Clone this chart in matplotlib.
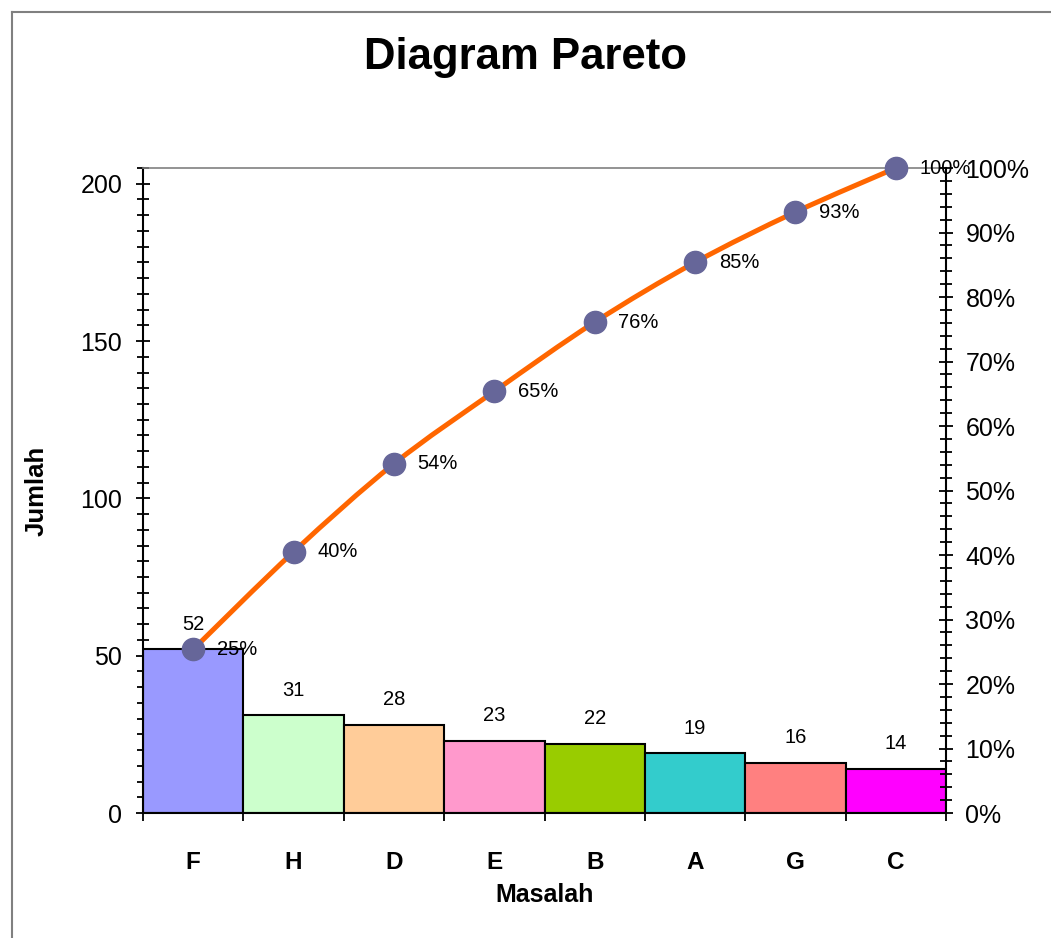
import numpy as np
import matplotlib
matplotlib.use("Agg")
import matplotlib.pyplot as plt
from matplotlib.ticker import MultipleLocator, FuncFormatter
from matplotlib.lines import Line2D
from matplotlib.path import Path
from matplotlib.patches import PathPatch

plt.rcParams['font.family'] = ['Liberation Sans', 'DejaVu Sans']

# --- data ---
kategori = ["F", "H", "D", "E", "B", "A", "G", "C"]
jumlah = [52, 31, 28, 23, 22, 19, 16, 14]
label_persen = ["25%", "40%", "54%", "65%", "76%", "85%", "93%", "100%"]
warna_bar = ["#9999FF", "#CCFFCC", "#FFCC99", "#FF99CC",
             "#99CC00", "#33CCCC", "#FF8080", "#FF00FF"]

total = sum(jumlah)
kumulatif = np.cumsum(jumlah) / total

W, H = 1051, 938
fig = plt.figure(figsize=(W / 100, H / 100), dpi=100)

# posisi area plot (piksel)
x0, x1, y0, y1 = 143, 946, 168, 813
ax = fig.add_axes([x0 / W, 1 - y1 / H, (x1 - x0) / W, (y1 - y0) / H])

x = np.arange(len(kategori))
bars = ax.bar(x, jumlah, width=1.0, color=warna_bar, edgecolor="black", linewidth=1.5, zorder=2)
for xi, v in zip(x, jumlah):
    ax.annotate(str(v), (xi, v), xytext=(0, 18), textcoords="offset points",
                ha="center", va="center", fontsize=14.5)

ax.set_xlim(-0.5, len(kategori) - 0.5)
ax.set_ylim(0, total)

# sumbu kiri
ax.yaxis.set_major_locator(MultipleLocator(50))
ax.yaxis.set_minor_locator(MultipleLocator(5))
ax.tick_params(axis="y", which="major", direction="inout", length=10, width=1.3, labelsize=18, pad=10)
ax.tick_params(axis="y", which="minor", direction="inout", length=8, width=1.3)

# sumbu x: label di tengah, tick di batas bar
ax.set_xticks(x)
ax.set_xticklabels(kategori, fontsize=17.5, fontweight="bold")
ax.set_xticks(np.arange(-0.5, len(kategori)), minor=True)
ax.tick_params(axis="x", which="major", length=0, pad=27)
ax.tick_params(axis="x", which="minor", direction="out", length=6, width=1.3)

for s in ["left", "bottom"]:
    ax.spines[s].set_color("black")
    ax.spines[s].set_linewidth(1.5)
ax.spines["top"].set_color("#808080")
ax.spines["top"].set_linewidth(1.2)
ax.spines["right"].set_visible(False)

ax.set_ylabel("Jumlah", fontsize=18.5, fontweight="bold")
ax.yaxis.set_label_coords(-0.118, 0.5)
ax.set_xlabel("Masalah", fontsize=18, fontweight="bold")
ax.xaxis.set_label_coords(0.5, -0.108)

# sumbu kanan (persen kumulatif)
ax2 = ax.twinx()
ax2.set_ylim(0, 1)
ax2.yaxis.set_major_locator(MultipleLocator(0.1))
ax2.yaxis.set_minor_locator(MultipleLocator(0.02))
ax2.yaxis.set_major_formatter(FuncFormatter(lambda v, p: f"{v * 100:.0f}%"))
ax2.tick_params(axis="y", which="major", direction="inout", length=10, width=1.3, labelsize=18, pad=9)
ax2.tick_params(axis="y", which="minor", direction="inout", length=8, width=1.3)
for s in ["left", "bottom", "top"]:
    ax2.spines[s].set_visible(False)
ax2.spines["right"].set_color("black")
ax2.spines["right"].set_linewidth(1.5)

# garis kumulatif dihaluskan (gaya "smoothed line" Excel, bezier lewat titik data)
pts = np.column_stack([x, kumulatif])
ext = np.vstack([pts[0], pts, pts[-1]])
verts = [tuple(pts[0])]
codes = [Path.MOVETO]
for i in range(len(pts) - 1):
    p0, p1, p2, p3 = ext[i], ext[i + 1], ext[i + 2], ext[i + 3]
    c1 = p1 + (p2 - p0) / 6
    c2 = p2 - (p3 - p1) / 6
    verts += [tuple(c1), tuple(c2), tuple(p2)]
    codes += [Path.CURVE4] * 3
ax2.add_patch(PathPatch(Path(verts, codes), facecolor="none", edgecolor="#FF6600",
                        linewidth=3.6, zorder=3, clip_on=False))
ax2.plot(x, kumulatif, linestyle="none", zorder=4,
         marker="o", markersize=16, markerfacecolor="#666699", markeredgecolor="#666699",
         clip_on=False)
for xi, v, lab in zip(x, kumulatif, label_persen):
    ax2.annotate(lab, (xi, v), xytext=(17, 0), textcoords="offset points",
                 ha="left", va="center", fontsize=14.5, annotation_clip=False)

# judul
fig.text(525 / W, 1 - 58 / H, "Diagram Pareto", ha="center", va="center",
         fontsize=31.5, fontweight="bold")

# bingkai luar (kiri dan atas)
fig.add_artist(Line2D([12 / W, 12 / W], [0, 1 - 12 / H], color="#808080", linewidth=1.5))
fig.add_artist(Line2D([12 / W, 1], [1 - 12 / H, 1 - 12 / H], color="#808080", linewidth=1.5))

fig.savefig("out.png", dpi=100)
